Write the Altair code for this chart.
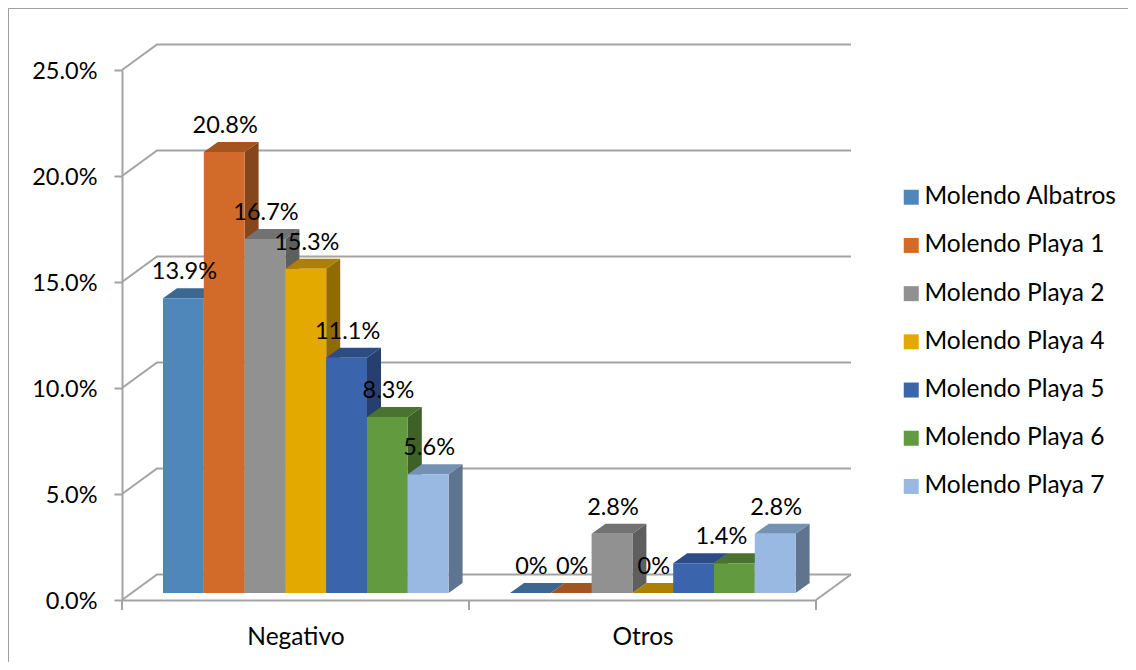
import altair as alt
import pandas as pd

categories = ["Negativo", "Otros"]
series = ["Molendo Albatros", "Molendo Playa 1", "Molendo Playa 2", "Molendo Playa 4",
          "Molendo Playa 5", "Molendo Playa 6", "Molendo Playa 7"]
negativo = [13.9, 20.8, 16.7, 15.3, 11.1, 8.3, 5.6]
otros = [0.0, 0.0, 2.8, 0.0, 1.4, 1.4, 2.8]
label_neg = ["13.9%", "20.8%", "16.7%", "15.3%", "11.1%", "8.3%", "5.6%"]
label_otr = ["0%", "0%", "2.8%", "0%", "", "1.4%", "2.8%"]
y_ticks = [0, 5, 10, 15, 20, 25]
front = ["#4f87ba", "#d26b29", "#919191", "#e3a900", "#3a64ac", "#629a3f", "#9ab9e2"]
top = ["#3c6791", "#a3541f", "#727272", "#ad8100", "#2c4c85", "#4a732f", "#7391b4"]
side = ["#335878", "#84461a", "#5e5e5e", "#8f6b00", "#263f6f", "#3e6127", "#5f758f"]

FONT = "Lato"
NUM_SIZE = 23.5
NAME_SIZE = 24.5
GRID = "#a3a3a3"
W, H = 694, 530
PXX = 2 / W      # category units per px
PXY = 25 / H     # percent per px
BW = 40.8 * PXX
GAP = 41 * PXX
BASE = 7 * PXY
DX, DY = 14 * PXX, 10 * PXY
WX, WY = 35 * PXX, 25.5 * PXY
LABEL_UP = 26 * PXY

xs = alt.Scale(domain=[0, 2])
ys = alt.Scale(domain=[0, 25])
cs = alt.Scale(domain=series, range=front)

x_axis = alt.Axis(
    values=[0.5, 1.5], labelExpr="datum.value < 1 ? 'Negativo' : 'Otros'", title=None, grid=False,
    ticks=False, labelFont=FONT, labelFontSize=NAME_SIZE, labelColor="#000000", labelPadding=25,
    labelAngle=0, domainColor=GRID, domainWidth=2)
y_axis = alt.Axis(
    values=y_ticks, labelExpr="format(datum.value, '.1f') + '%'", title=None, grid=False,
    tickSize=8, tickWidth=2, tickColor=GRID, labelFont=FONT, labelFontSize=NUM_SIZE, labelColor="#000000",
    labelPadding=17, labelOffset=1, domainColor=GRID, domainWidth=2)


def X(f="x"):
    return alt.X(f, type="quantitative", scale=xs, axis=x_axis)


def Y(f="y"):
    return alt.Y(f, type="quantitative", scale=ys, axis=y_axis)


layers = []

# outer frame
frame_x = pd.DataFrame({"x": [(8 - 122) * PXX], "y": [(600 - 8) * PXY], "y2": [(600 - 670) * PXY]})
frame_y = pd.DataFrame({"x": [(8 - 122) * PXX], "x2": [(1136 - 122) * PXX], "y": [(600 - 8) * PXY]})
layers.append(alt.Chart(frame_x).mark_rule(color="#a0a0a0", strokeWidth=2).encode(
    x=X(), y=Y(), y2="y2"))
layers.append(alt.Chart(frame_y).mark_rule(color="#a0a0a0", strokeWidth=2).encode(
    x=X(), x2="x2", y=Y()))

# walls
grid_rows = []
for t in y_ticks:
    grid_rows += [{"t": t, "o": 0, "x": 0, "y": t},
                  {"t": t, "o": 1, "x": WX, "y": t + WY},
                  {"t": t, "o": 2, "x": 2 + WX, "y": t + WY}]
grid_rows += [{"t": -1, "o": 0, "x": 2, "y": 0}, {"t": -1, "o": 1, "x": 2 + WX, "y": WY}]
layers.append(alt.Chart(pd.DataFrame(grid_rows)).mark_line(color=GRID, strokeWidth=2).encode(
    x=X(), y=Y(), detail="t:N", order="o:Q"))

ticks_df = pd.DataFrame({"x": [0, 1, 2], "y": [0, 0, 0], "y2": [-10 * PXY] * 3})
layers.append(alt.Chart(ticks_df).mark_rule(color=GRID, strokeWidth=2).encode(x=X(), y=Y(), y2="y2"))

# bars, painted left to right: side, top, front
text_rows = []
for i, name in enumerate(series):
    side_rows, top_rows, front_rows = [], [], []
    for c, vals in enumerate([negativo, otros]):
        v = vals[i]
        x0 = c + GAP + i * BW
        x1 = x0 + BW
        t = v + BASE
        side_rows += [{"c": c, "x": x1, "y": t, "y2": BASE},
                      {"c": c, "x": x1 + DX, "y": t + DY, "y2": BASE + DY}]
        top_rows += [{"c": c, "y": t, "x": x0, "x2": x1},
                     {"c": c, "y": t + DY, "x": x0 + DX, "x2": x1 + DX}]
        front_rows.append({"s": name, "x": x0, "x2": x1, "y": t, "y2": BASE})
    layers.append(alt.Chart(pd.DataFrame(side_rows)).mark_area(orient="vertical", color=side[i]).encode(
        x=X(), y=Y(), y2="y2", detail="c:N"))
    layers.append(alt.Chart(pd.DataFrame(top_rows)).mark_area(orient="horizontal", color=top[i]).encode(
        y=Y(), x=X(), x2="x2", detail="c:N"))
    layers.append(alt.Chart(pd.DataFrame(front_rows)).mark_rect().encode(
        x=X(), x2="x2", y=Y(), y2="y2",
        color=alt.Color("s:N", scale=cs, legend=alt.Legend(
            orient="none", legendX=777, legendY=115, title=None, symbolType="square",
            symbolSize=225, symbolStrokeWidth=0, labelFont=FONT, labelFontSize=NAME_SIZE,
            labelColor="#000000", labelOffset=1, rowPadding=23.2, padding=0, labelLimit=260))))

    nudge = -14 * PXX if label_otr[i] == "1.4%" else 0
    text_rows.append({"x": GAP + i * BW + BW / 2 + 1 * PXX, "y": negativo[i] + BASE + LABEL_UP, "t": label_neg[i]})
    if label_otr[i]:
        text_rows.append({"x": 1 + GAP + i * BW + BW / 2 + 1 * PXX + nudge,
                          "y": otros[i] + BASE + LABEL_UP, "t": label_otr[i]})

layers.append(alt.Chart(pd.DataFrame(text_rows)).mark_text(
    font=FONT, fontSize=NUM_SIZE, color="#000000", align="center", baseline="middle").encode(
    x=X(), y=Y(), text="t:N"))

chart = alt.layer(*layers).properties(
    width=W, height=H,
    autosize=alt.AutoSizeParams(type="none"),
    padding={"left": 114, "top": 62, "right": 312, "bottom": 62},
    background="#ffffff",
).configure_view(stroke=None)

chart.save("out.html", embed_options={"renderer": "svg", "actions": False})
